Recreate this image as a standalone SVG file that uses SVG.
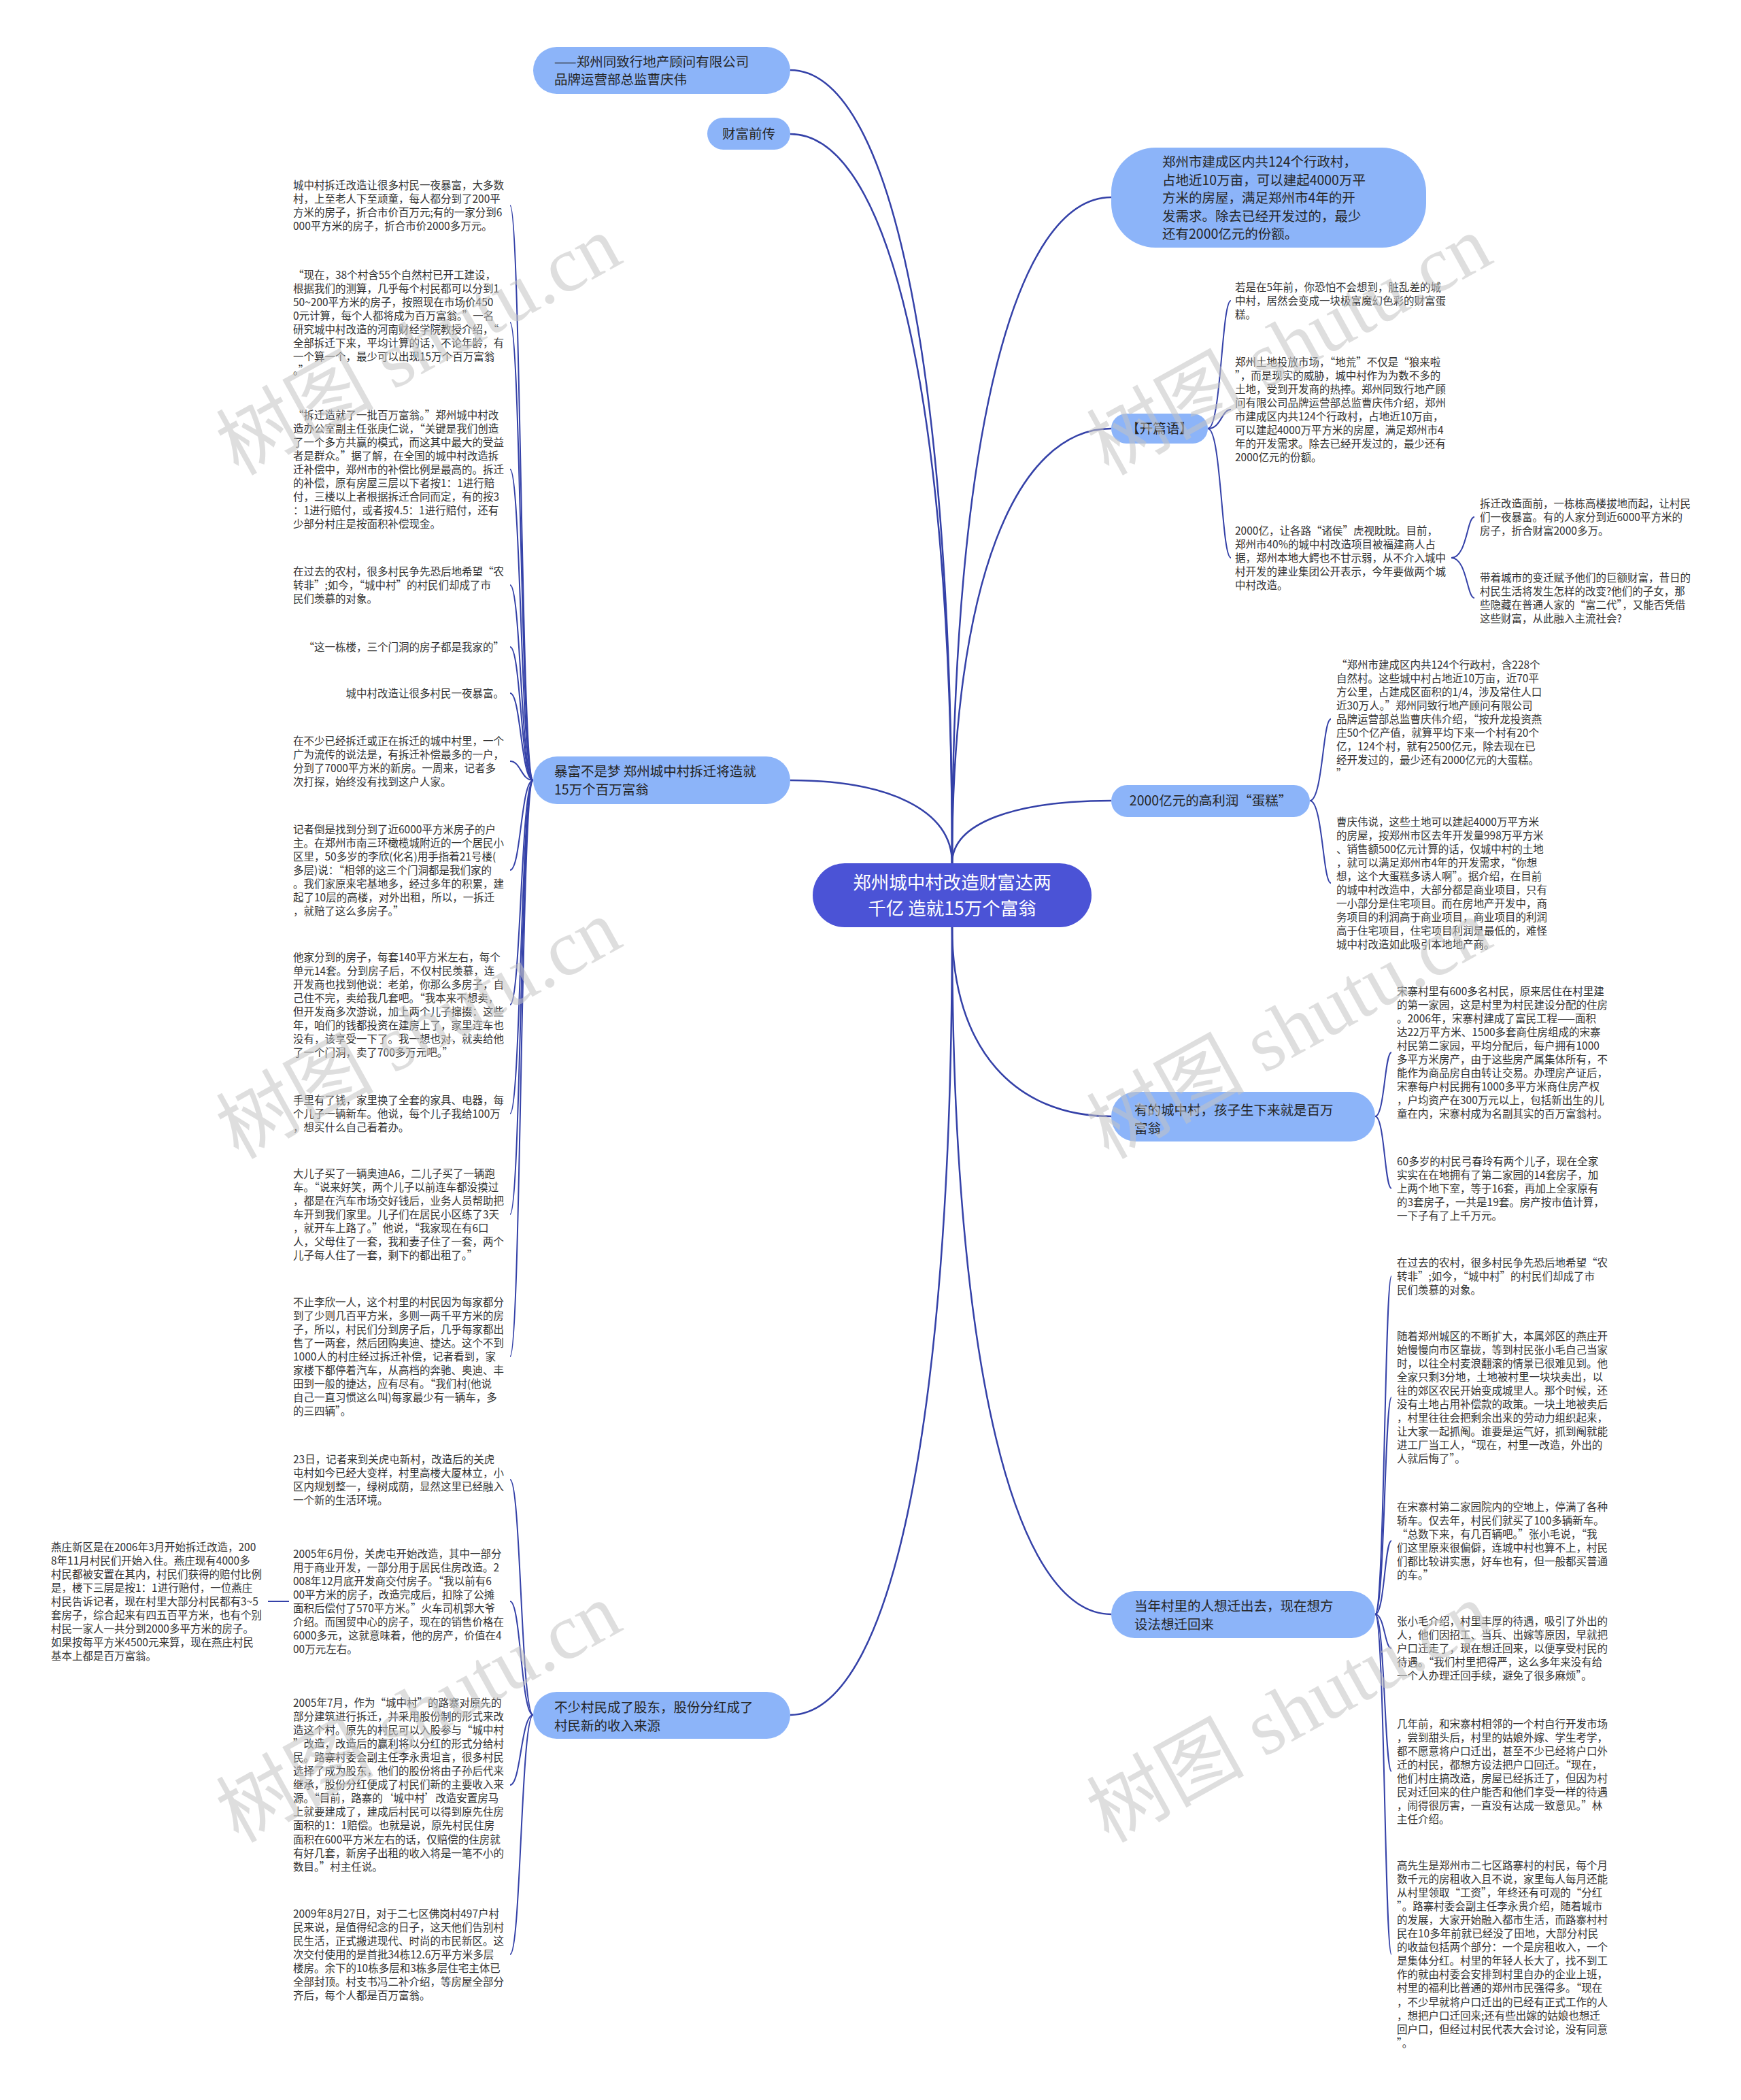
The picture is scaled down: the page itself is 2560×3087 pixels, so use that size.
<svg xmlns="http://www.w3.org/2000/svg" width="2560" height="3087" viewBox="0 0 2560 3087">
<style>
.wm{font-family:"Liberation Serif","Noto Sans CJK SC",serif;font-size:116px;fill:#c4c4c4;opacity:0.55}
.leaf{font-family:"Noto Sans CJK SC","Noto Sans",sans-serif;font-size:15.5px;fill:#333333}
.nt{font-family:"Noto Sans CJK SC","Noto Sans",sans-serif;font-size:19.5px;fill:#262626}
.ct{font-family:"Noto Sans CJK SC","Noto Sans",sans-serif;font-size:26.5px;fill:#ffffff}
.nd{fill:#8cb4f9}
.cn{fill:#4b53d6}
.c{fill:none;stroke:#3441a8;stroke-width:2.5}
.s{fill:none;stroke:#3441a8;stroke-width:2}
</style>
<rect width="2560" height="3087" fill="#ffffff"/>
<g id="connectors">
<path class="c" d="M1400,1269 C1400,511 1305,103 1162,103"/>
<path class="c" d="M1400,1269 C1400,572 1305,197 1162,197"/>
<path class="c" d="M1400,1269 C1400,1190 1305,1147 1162,1147"/>
<path class="c" d="M1400,1363 C1400,2116 1305,2521 1162,2521"/>
<path class="c" d="M1400,1269 C1400,633 1494,290 1634,290"/>
<path class="c" d="M1400,1269 C1400,854 1494,630 1634,630"/>
<path class="c" d="M1400,1269 C1400,1209 1494,1177 1634,1177"/>
<path class="c" d="M1400,1363 C1400,1544 1494,1641 1634,1641"/>
<path class="c" d="M1400,1363 C1400,2019 1494,2373 1634,2373"/>
<path class="s" d="M784,1147 C766,1147 766,302 750,302"/>
<path class="s" d="M784,1147 C766,1147 766,474 750,474"/>
<path class="s" d="M784,1147 C766,1147 766,690 750,690"/>
<path class="s" d="M784,1147 C766,1147 766,860 750,860"/>
<path class="s" d="M784,1147 C766,1147 766,951 750,951"/>
<path class="s" d="M784,1147 C766,1147 766,1019 750,1019"/>
<path class="s" d="M784,1147 C766,1147 766,1119 750,1119"/>
<path class="s" d="M784,1147 C766,1147 766,1279 750,1279"/>
<path class="s" d="M784,1147 C766,1147 766,1477 750,1477"/>
<path class="s" d="M784,1147 C766,1147 766,1637 750,1637"/>
<path class="s" d="M784,1147 C766,1147 766,1785 750,1785"/>
<path class="s" d="M784,1147 C766,1147 766,1994 750,1994"/>
<path class="s" d="M784,2521 C766,2521 766,2175 750,2175"/>
<path class="s" d="M784,2521 C766,2521 766,2354 750,2354"/>
<path class="s" d="M784,2521 C766,2521 766,2624 750,2624"/>
<path class="s" d="M784,2521 C766,2521 766,2873 750,2873"/>
<path class="s" d="M425,2354 C410,2354 410,2354 394,2354"/>
<path class="s" d="M1776,630 C1796,630 1796,442 1810,442"/>
<path class="s" d="M1776,630 C1796,630 1796,602 1810,602"/>
<path class="s" d="M1776,630 C1796,630 1796,820 1810,820"/>
<path class="s" d="M2134,820 C2157,820 2157,760 2168,760"/>
<path class="s" d="M2134,820 C2157,820 2157,879 2168,879"/>
<path class="s" d="M1926,1177 C1945,1177 1945,1057 1957,1057"/>
<path class="s" d="M1926,1177 C1945,1177 1945,1298 1957,1298"/>
<path class="s" d="M2022,1641 C2036,1641 2036,1547 2046,1547"/>
<path class="s" d="M2022,1641 C2036,1641 2036,1747 2046,1747"/>
<path class="s" d="M2022,2373 C2036,2373 2036,1876 2046,1876"/>
<path class="s" d="M2022,2373 C2036,2373 2036,2054 2046,2054"/>
<path class="s" d="M2022,2373 C2036,2373 2036,2265 2046,2265"/>
<path class="s" d="M2022,2373 C2036,2373 2036,2423 2046,2423"/>
<path class="s" d="M2022,2373 C2036,2373 2036,2604 2046,2604"/>
<path class="s" d="M2022,2373 C2036,2373 2036,2873 2046,2873"/>
</g>

<g id="center">
<rect class="cn" x="1195" y="1269" width="410" height="94" rx="47"/>
<text class="ct" text-anchor="middle"><tspan x="1400" y="1307">郑州城中村改造财富达两</tspan><tspan x="1400" y="1345">千亿 造就15万个富翁</tspan></text>
</g>

<g id="n1">
<rect class="nd" x="784" y="69" width="378" height="69" rx="34.5"/>
<text class="nt"><tspan x="815" y="98">——郑州同致行地产顾问有限公司</tspan><tspan x="815" y="124">品牌运营部总监曹庆伟</tspan></text>
</g>
<g id="n2">
<rect class="nd" x="1040" y="173" width="122" height="47" rx="23.5"/>
<text class="nt" text-anchor="middle" x="1101" y="204">财富前传</text>
</g>
<g id="n3">
<rect class="nd" x="784" y="1112" width="378" height="70" rx="35"/>
<text class="nt"><tspan x="815" y="1141">暴富不是梦 郑州城中村拆迁将造就</tspan><tspan x="815" y="1168">15万个百万富翁</tspan></text>
</g>
<g id="n4">
<rect class="nd" x="784" y="2487" width="378" height="69" rx="34.5"/>
<text class="nt"><tspan x="815" y="2517">不少村民成了股东，股份分红成了</tspan><tspan x="815" y="2544">村民新的收入来源</tspan></text>
</g>
<g id="n5">
<rect class="nd" x="1634" y="217" width="463" height="147" rx="65"/>
<text class="nt"><tspan x="1709" y="245">郑州市建成区内共124个行政村，</tspan><tspan x="1709" y="271.5">占地近10万亩，可以建起4000万平</tspan><tspan x="1709" y="298">方米的房屋，满足郑州市4年的开</tspan><tspan x="1709" y="324.5">发需求。除去已经开发过的，最少</tspan><tspan x="1709" y="351">还有2000亿元的份额。</tspan></text>
</g>
<g id="n6">
<rect class="nd" x="1634" y="608" width="142" height="44" rx="22"/>
<text class="nt" text-anchor="middle" x="1705" y="637">【开篇语】</text>
</g>
<g id="n7">
<rect class="nd" x="1634" y="1154" width="292" height="47" rx="23.5"/>
<text class="nt" text-anchor="middle" x="1780" y="1184">2000亿元的高利润“蛋糕”</text>
</g>
<g id="n8">
<rect class="nd" x="1634" y="1605" width="388" height="73" rx="36"/>
<text class="nt"><tspan x="1668" y="1639">有的城中村，孩子生下来就是百万</tspan><tspan x="1668" y="1666">富翁</tspan></text>
</g>
<g id="n9">
<rect class="nd" x="1634" y="2339" width="388" height="69" rx="34.5"/>
<text class="nt"><tspan x="1668" y="2368">当年村里的人想迁出去，现在想方</tspan><tspan x="1668" y="2395">设法想迁回来</tspan></text>
</g>

<g id="b1"><text class="leaf"><tspan x="431" y="277.5">城中村拆迁改造让很多村民一夜暴富，大多数</tspan><tspan x="431" dy="20.1">村，上至老人下至顽童，每人都分到了200平</tspan><tspan x="431" dy="20.1">方米的房子，折合市价百万元;有的一家分到6</tspan><tspan x="431" dy="20.1">000平方米的房子，折合市价2000多万元。</tspan></text></g>
<g id="b2"><text class="leaf"><tspan x="431" y="409.5">“现在，38个村含55个自然村已开工建设，</tspan><tspan x="431" dy="20.1">根据我们的测算，几乎每个村民都可以分到1</tspan><tspan x="431" dy="20.1">50~200平方米的房子，按照现在市场价450</tspan><tspan x="431" dy="20.1">0元计算，每个人都将成为百万富翁。”一名</tspan><tspan x="431" dy="20.1">研究城中村改造的河南财经学院教授介绍，“</tspan><tspan x="431" dy="20.1">全部拆迁下来，平均计算的话，不论年龄，有</tspan><tspan x="431" dy="20.1">一个算一个，最少可以出现15万个百万富翁</tspan><tspan x="431" dy="20.1">。”</tspan></text></g>
<g id="b3"><text class="leaf"><tspan x="431" y="615.5">“拆迁造就了一批百万富翁。”郑州城中村改</tspan><tspan x="431" dy="20.1">造办公室副主任张庚仁说，“关键是我们创造</tspan><tspan x="431" dy="20.1">了一个多方共赢的模式，而这其中最大的受益</tspan><tspan x="431" dy="20.1">者是群众。”据了解，在全国的城中村改造拆</tspan><tspan x="431" dy="20.1">迁补偿中，郑州市的补偿比例是最高的。拆迁</tspan><tspan x="431" dy="20.1">的补偿，原有房屋三层以下者按1：1进行赔</tspan><tspan x="431" dy="20.1">付，三楼以上者根据拆迁合同而定，有的按3</tspan><tspan x="431" dy="20.1">：1进行赔付，或者按4.5：1进行赔付，还有</tspan><tspan x="431" dy="20.1">少部分村庄是按面积补偿现金。</tspan></text></g>
<g id="b4"><text class="leaf"><tspan x="431" y="845.5">在过去的农村，很多村民争先恐后地希望“农</tspan><tspan x="431" dy="20.1">转非”;如今，“城中村”的村民们却成了市</tspan><tspan x="431" dy="20.1">民们羡慕的对象。</tspan></text></g>
<g id="b5"><text class="leaf" text-anchor="end" x="741" y="956.5">“这一栋楼，三个门洞的房子都是我家的”</text></g>
<g id="b6"><text class="leaf" text-anchor="end" x="741" y="1024.5">城中村改造让很多村民一夜暴富。</text></g>
<g id="b7"><text class="leaf"><tspan x="431" y="1094.5">在不少已经拆迁或正在拆迁的城中村里，一个</tspan><tspan x="431" dy="20.1">广为流传的说法是，有拆迁补偿最多的一户，</tspan><tspan x="431" dy="20.1">分到了7000平方米的新房。一周来，记者多</tspan><tspan x="431" dy="20.1">次打探，始终没有找到这户人家。</tspan></text></g>
<g id="b8"><text class="leaf"><tspan x="431" y="1224.5">记者倒是找到分到了近6000平方米房子的户</tspan><tspan x="431" dy="20.1">主。在郑州市南三环橄榄城附近的一个居民小</tspan><tspan x="431" dy="20.1">区里，50多岁的李欣(化名)用手指着21号楼(</tspan><tspan x="431" dy="20.1">多层)说：“相邻的这三个门洞都是我们家的</tspan><tspan x="431" dy="20.1">。我们家原来宅基地多，经过多年的积累，建</tspan><tspan x="431" dy="20.1">起了10层的高楼，对外出租，所以，一拆迁</tspan><tspan x="431" dy="20.1">，就赔了这么多房子。”</tspan></text></g>
<g id="b9"><text class="leaf"><tspan x="431" y="1412.5">他家分到的房子，每套140平方米左右，每个</tspan><tspan x="431" dy="20.1">单元14套。分到房子后，不仅村民羡慕，连</tspan><tspan x="431" dy="20.1">开发商也找到他说：老弟，你那么多房子，自</tspan><tspan x="431" dy="20.1">己住不完，卖给我几套吧。“我本来不想卖，</tspan><tspan x="431" dy="20.1">但开发商多次游说，加上两个儿子撺掇：这些</tspan><tspan x="431" dy="20.1">年，咱们的钱都投资在建房上了，家里连车也</tspan><tspan x="431" dy="20.1">没有，该享受一下了。我一想也对，就卖给他</tspan><tspan x="431" dy="20.1">了一个门洞，卖了700多万元吧。”</tspan></text></g>
<g id="b10"><text class="leaf"><tspan x="431" y="1622.5">手里有了钱，家里换了全套的家具、电器，每</tspan><tspan x="431" dy="20.1">个儿子一辆新车。他说，每个儿子我给100万</tspan><tspan x="431" dy="20.1">，想买什么自己看着办。</tspan></text></g>
<g id="b11"><text class="leaf"><tspan x="431" y="1730.5">大儿子买了一辆奥迪A6，二儿子买了一辆跑</tspan><tspan x="431" dy="20.1">车。“说来好笑，两个儿子以前连车都没摸过</tspan><tspan x="431" dy="20.1">，都是在汽车市场交好钱后，业务人员帮助把</tspan><tspan x="431" dy="20.1">车开到我们家里。儿子们在居民小区练了3天</tspan><tspan x="431" dy="20.1">，就开车上路了。”他说，“我家现在有6口</tspan><tspan x="431" dy="20.1">人，父母住了一套，我和妻子住了一套，两个</tspan><tspan x="431" dy="20.1">儿子每人住了一套，剩下的都出租了。”</tspan></text></g>
<g id="b12"><text class="leaf"><tspan x="431" y="1919.5">不止李欣一人，这个村里的村民因为每家都分</tspan><tspan x="431" dy="20.1">到了少则几百平方米，多则一两千平方米的房</tspan><tspan x="431" dy="20.1">子，所以，村民们分到房子后，几乎每家都出</tspan><tspan x="431" dy="20.1">售了一两套，然后团购奥迪、捷达。这个不到</tspan><tspan x="431" dy="20.1">1000人的村庄经过拆迁补偿，记者看到，家</tspan><tspan x="431" dy="20.1">家楼下都停着汽车，从高档的奔驰、奥迪、丰</tspan><tspan x="431" dy="20.1">田到一般的捷达，应有尽有。“我们村(他说</tspan><tspan x="431" dy="20.1">自己一直习惯这么叫)每家最少有一辆车，多</tspan><tspan x="431" dy="20.1">的三四辆”。</tspan></text></g>

<g id="c1"><text class="leaf"><tspan x="431" y="2150.5">23日，记者来到关虎屯新村，改造后的关虎</tspan><tspan x="431" dy="20.1">屯村如今已经大变样，村里高楼大厦林立，小</tspan><tspan x="431" dy="20.1">区内规划整一，绿树成荫，显然这里已经融入</tspan><tspan x="431" dy="20.1">一个新的生活环境。</tspan></text></g>
<g id="c2"><text class="leaf"><tspan x="431" y="2289.5">2005年6月份，关虎屯开始改造，其中一部分</tspan><tspan x="431" dy="20.1">用于商业开发，一部分用于居民住房改造。2</tspan><tspan x="431" dy="20.1">008年12月底开发商交付房子。“我以前有6</tspan><tspan x="431" dy="20.1">00平方米的房子，改造完成后，扣除了公摊</tspan><tspan x="431" dy="20.1">面积后偿付了570平方米。”火车司机郭大爷</tspan><tspan x="431" dy="20.1">介绍。而国贸中心的房子，现在的销售价格在</tspan><tspan x="431" dy="20.1">6000多元，这就意味着，他的房产，价值在4</tspan><tspan x="431" dy="20.1">00万元左右。</tspan></text></g>
<g id="c2a"><text class="leaf"><tspan x="75" y="2279.5">燕庄新区是在2006年3月开始拆迁改造，200</tspan><tspan x="75" dy="20.1">8年11月村民们开始入住。燕庄现有4000多</tspan><tspan x="75" dy="20.1">村民都被安置在其内，村民们获得的赔付比例</tspan><tspan x="75" dy="20.1">是，楼下三层是按1：1进行赔付，一位燕庄</tspan><tspan x="75" dy="20.1">村民告诉记者，现在村里大部分村民都有3~5</tspan><tspan x="75" dy="20.1">套房子，综合起来有四五百平方米，也有个别</tspan><tspan x="75" dy="20.1">村民一家人一共分到2000多平方米的房子。</tspan><tspan x="75" dy="20.1">如果按每平方米4500元来算，现在燕庄村民</tspan><tspan x="75" dy="20.1">基本上都是百万富翁。</tspan></text></g>
<g id="c3"><text class="leaf"><tspan x="431" y="2508.5">2005年7月，作为“城中村”的路寨对原先的</tspan><tspan x="431" dy="20.1">部分建筑进行拆迁，并采用股份制的形式来改</tspan><tspan x="431" dy="20.1">造这个村。原先的村民可以入股参与“城中村</tspan><tspan x="431" dy="20.1">”改造，改造后的赢利将以分红的形式分给村</tspan><tspan x="431" dy="20.1">民。路寨村委会副主任李永贵坦言，很多村民</tspan><tspan x="431" dy="20.1">选择了成为股东，他们的股份将由子孙后代来</tspan><tspan x="431" dy="20.1">继承，股份分红便成了村民们新的主要收入来</tspan><tspan x="431" dy="20.1">源。“目前，路寨的‘城中村’改造安置房马</tspan><tspan x="431" dy="20.1">上就要建成了，建成后村民可以得到原先住房</tspan><tspan x="431" dy="20.1">面积的1：1赔偿。也就是说，原先村民住房</tspan><tspan x="431" dy="20.1">面积在600平方米左右的话，仅赔偿的住房就</tspan><tspan x="431" dy="20.1">有好几套，新房子出租的收入将是一笔不小的</tspan><tspan x="431" dy="20.1">数目。”村主任说。</tspan></text></g>
<g id="c4"><text class="leaf"><tspan x="431" y="2818.5">2009年8月27日，对于二七区佛岗村497户村</tspan><tspan x="431" dy="20.1">民来说，是值得纪念的日子，这天他们告别村</tspan><tspan x="431" dy="20.1">民生活，正式搬进现代、时尚的市民新区。这</tspan><tspan x="431" dy="20.1">次交付使用的是首批34栋12.6万平方米多层</tspan><tspan x="431" dy="20.1">楼房。余下的10栋多层和3栋多层住宅主体已</tspan><tspan x="431" dy="20.1">全部封顶。村支书冯二补介绍，等房屋全部分</tspan><tspan x="431" dy="20.1">齐后，每个人都是百万富翁。</tspan></text></g>

<g id="r1"><text class="leaf"><tspan x="1816" y="427.5">若是在5年前，你恐怕不会想到，脏乱差的城</tspan><tspan x="1816" dy="20.1">中村，居然会变成一块极富魔幻色彩的财富蛋</tspan><tspan x="1816" dy="20.1">糕。</tspan></text></g>
<g id="r2"><text class="leaf"><tspan x="1816" y="537.5">郑州土地投放市场，“地荒”不仅是“狼来啦</tspan><tspan x="1816" dy="20.1">”，而是现实的威胁，城中村作为为数不多的</tspan><tspan x="1816" dy="20.1">土地，受到开发商的热捧。郑州同致行地产顾</tspan><tspan x="1816" dy="20.1">问有限公司品牌运营部总监曹庆伟介绍，郑州</tspan><tspan x="1816" dy="20.1">市建成区内共124个行政村，占地近10万亩，</tspan><tspan x="1816" dy="20.1">可以建起4000万平方米的房屋，满足郑州市4</tspan><tspan x="1816" dy="20.1">年的开发需求。除去已经开发过的，最少还有</tspan><tspan x="1816" dy="20.1">2000亿元的份额。</tspan></text></g>
<g id="r3"><text class="leaf"><tspan x="1816" y="785.5">2000亿，让各路“诸侯”虎视眈眈。目前，</tspan><tspan x="1816" dy="20.1">郑州市40%的城中村改造项目被福建商人占</tspan><tspan x="1816" dy="20.1">据，郑州本地大鳄也不甘示弱，从不介入城中</tspan><tspan x="1816" dy="20.1">村开发的建业集团公开表示，今年要做两个城</tspan><tspan x="1816" dy="20.1">中村改造。</tspan></text></g>
<g id="r3a"><text class="leaf"><tspan x="2176" y="745.5">拆迁改造面前，一栋栋高楼拔地而起，让村民</tspan><tspan x="2176" dy="20.1">们一夜暴富。有的人家分到近6000平方米的</tspan><tspan x="2176" dy="20.1">房子，折合财富2000多万。</tspan></text></g>
<g id="r3b"><text class="leaf"><tspan x="2176" y="854.5">带着城市的变迁赋予他们的巨额财富，昔日的</tspan><tspan x="2176" dy="20.1">村民生活将发生怎样的改变?他们的子女，那</tspan><tspan x="2176" dy="20.1">些隐藏在普通人家的“富二代”，又能否凭借</tspan><tspan x="2176" dy="20.1">这些财富，从此融入主流社会?</tspan></text></g>

<g id="s1"><text class="leaf"><tspan x="1965" y="982.5">“郑州市建成区内共124个行政村，含228个</tspan><tspan x="1965" dy="20.1">自然村。这些城中村占地近10万亩，近70平</tspan><tspan x="1965" dy="20.1">方公里，占建成区面积的1/4，涉及常住人口</tspan><tspan x="1965" dy="20.1">近30万人。”郑州同致行地产顾问有限公司</tspan><tspan x="1965" dy="20.1">品牌运营部总监曹庆伟介绍，“按升龙投资燕</tspan><tspan x="1965" dy="20.1">庄50个亿产值，就算平均下来一个村有20个</tspan><tspan x="1965" dy="20.1">亿，124个村，就有2500亿元，除去现在已</tspan><tspan x="1965" dy="20.1">经开发过的，最少还有2000亿元的大蛋糕。</tspan><tspan x="1965" dy="20.1">”</tspan></text></g>
<g id="s2"><text class="leaf"><tspan x="1965" y="1213.5">曹庆伟说，这些土地可以建起4000万平方米</tspan><tspan x="1965" dy="20.1">的房屋，按郑州市区去年开发量998万平方米</tspan><tspan x="1965" dy="20.1">、销售额500亿元计算的话，仅城中村的土地</tspan><tspan x="1965" dy="20.1">，就可以满足郑州市4年的开发需求，“你想</tspan><tspan x="1965" dy="20.1">想，这个大蛋糕多诱人啊”。据介绍，在目前</tspan><tspan x="1965" dy="20.1">的城中村改造中，大部分都是商业项目，只有</tspan><tspan x="1965" dy="20.1">一小部分是住宅项目。而在房地产开发中，商</tspan><tspan x="1965" dy="20.1">务项目的利润高于商业项目，商业项目的利润</tspan><tspan x="1965" dy="20.1">高于住宅项目，住宅项目利润是最低的，难怪</tspan><tspan x="1965" dy="20.1">城中村改造如此吸引本地地产商。</tspan></text></g>

<g id="t1"><text class="leaf"><tspan x="2054" y="1462.5">宋寨村里有600多名村民，原来居住在村里建</tspan><tspan x="2054" dy="20.1">的第一家园，这是村里为村民建设分配的住房</tspan><tspan x="2054" dy="20.1">。2006年，宋寨村建成了富民工程——面积</tspan><tspan x="2054" dy="20.1">达22万平方米、1500多套商住房组成的宋寨</tspan><tspan x="2054" dy="20.1">村民第二家园，平均分配后，每户拥有1000</tspan><tspan x="2054" dy="20.1">多平方米房产，由于这些房产属集体所有，不</tspan><tspan x="2054" dy="20.1">能作为商品房自由转让交易。办理房产证后，</tspan><tspan x="2054" dy="20.1">宋寨每户村民拥有1000多平方米商住房产权</tspan><tspan x="2054" dy="20.1">，户均资产在300万元以上，包括新出生的儿</tspan><tspan x="2054" dy="20.1">童在内，宋寨村成为名副其实的百万富翁村。</tspan></text></g>
<g id="t2"><text class="leaf"><tspan x="2054" y="1712.5">60多岁的村民弓春玲有两个儿子，现在全家</tspan><tspan x="2054" dy="20.1">实实在在地拥有了第二家园的14套房子，加</tspan><tspan x="2054" dy="20.1">上两个地下室，等于16套，再加上全家原有</tspan><tspan x="2054" dy="20.1">的3套房子，一共是19套。房产按市值计算，</tspan><tspan x="2054" dy="20.1">一下子有了上千万元。</tspan></text></g>

<g id="u1"><text class="leaf"><tspan x="2054" y="1861.5">在过去的农村，很多村民争先恐后地希望“农</tspan><tspan x="2054" dy="20.1">转非”;如今，“城中村”的村民们却成了市</tspan><tspan x="2054" dy="20.1">民们羡慕的对象。</tspan></text></g>
<g id="u2"><text class="leaf"><tspan x="2054" y="1969.5">随着郑州城区的不断扩大，本属郊区的燕庄开</tspan><tspan x="2054" dy="20.1">始慢慢向市区靠拢，等到村民张小毛自己当家</tspan><tspan x="2054" dy="20.1">时，以往全村麦浪翻滚的情景已很难见到。他</tspan><tspan x="2054" dy="20.1">全家只剩3分地，土地被村里一块块卖出，以</tspan><tspan x="2054" dy="20.1">往的郊区农民开始变成城里人。那个时候，还</tspan><tspan x="2054" dy="20.1">没有土地占用补偿款的政策。一块土地被卖后</tspan><tspan x="2054" dy="20.1">，村里往往会把剩余出来的劳动力组织起来，</tspan><tspan x="2054" dy="20.1">让大家一起抓阄。谁要是运气好，抓到阄就能</tspan><tspan x="2054" dy="20.1">进工厂当工人，“现在，村里一改造，外出的</tspan><tspan x="2054" dy="20.1">人就后悔了”。</tspan></text></g>
<g id="u3"><text class="leaf"><tspan x="2054" y="2220.5">在宋寨村第二家园院内的空地上，停满了各种</tspan><tspan x="2054" dy="20.1">轿车。仅去年，村民们就买了100多辆新车。</tspan><tspan x="2054" dy="20.1">“总数下来，有几百辆吧。”张小毛说，“我</tspan><tspan x="2054" dy="20.1">们这里原来很偏僻，连城中村也算不上，村民</tspan><tspan x="2054" dy="20.1">们都比较讲实惠，好车也有，但一般都买普通</tspan><tspan x="2054" dy="20.1">的车。”</tspan></text></g>
<g id="u4"><text class="leaf"><tspan x="2054" y="2388.5">张小毛介绍，村里丰厚的待遇，吸引了外出的</tspan><tspan x="2054" dy="20.1">人，他们因招工、当兵、出嫁等原因，早就把</tspan><tspan x="2054" dy="20.1">户口迁走了，现在想迁回来，以便享受村民的</tspan><tspan x="2054" dy="20.1">待遇。“我们村里把得严，这么多年来没有给</tspan><tspan x="2054" dy="20.1">一个人办理迁回手续，避免了很多麻烦”。</tspan></text></g>
<g id="u5"><text class="leaf"><tspan x="2054" y="2539.5">几年前，和宋寨村相邻的一个村自行开发市场</tspan><tspan x="2054" dy="20.1">，尝到甜头后，村里的姑娘外嫁、学生考学，</tspan><tspan x="2054" dy="20.1">都不愿意将户口迁出，甚至不少已经将户口外</tspan><tspan x="2054" dy="20.1">迁的村民，都想方设法把户口回迁。“现在，</tspan><tspan x="2054" dy="20.1">他们村庄搞改造，房屋已经拆迁了，但因为村</tspan><tspan x="2054" dy="20.1">民对迁回来的住户能否和他们享受一样的待遇</tspan><tspan x="2054" dy="20.1">，闹得很厉害，一直没有达成一致意见。”林</tspan><tspan x="2054" dy="20.1">主任介绍。</tspan></text></g>
<g id="u6"><text class="leaf"><tspan x="2054" y="2747.5">高先生是郑州市二七区路寨村的村民，每个月</tspan><tspan x="2054" dy="20.1">数千元的房租收入且不说，家里每人每月还能</tspan><tspan x="2054" dy="20.1">从村里领取“工资”，年终还有可观的“分红</tspan><tspan x="2054" dy="20.1">”。路寨村委会副主任李永贵介绍，随着城市</tspan><tspan x="2054" dy="20.1">的发展，大家开始融入都市生活，而路寨村村</tspan><tspan x="2054" dy="20.1">民在10多年前就已经没了田地，大部分村民</tspan><tspan x="2054" dy="20.1">的收益包括两个部分：一个是房租收入，一个</tspan><tspan x="2054" dy="20.1">是集体分红。村里的年轻人长大了，找不到工</tspan><tspan x="2054" dy="20.1">作的就由村委会安排到村里自办的企业上班，</tspan><tspan x="2054" dy="20.1">村里的福利比普通的郑州市民强得多。“现在</tspan><tspan x="2054" dy="20.1">，不少早就将户口迁出的已经有正式工作的人</tspan><tspan x="2054" dy="20.1">，想把户口迁回来;还有些出嫁的姑娘也想迁</tspan><tspan x="2054" dy="20.1">回户口，但经过村民代表大会讨论，没有同意</tspan><tspan x="2054" dy="20.1">”。</tspan></text></g>

<g id="watermarks">
<text class="wm" transform="translate(350,700) rotate(-29)">树图 shutu.cn</text>
<text class="wm" transform="translate(350,1705) rotate(-29)">树图 shutu.cn</text>
<text class="wm" transform="translate(350,2710) rotate(-29)">树图 shutu.cn</text>
<text class="wm" transform="translate(1630,700) rotate(-29)">树图 shutu.cn</text>
<text class="wm" transform="translate(1630,1705) rotate(-29)">树图 shutu.cn</text>
<text class="wm" transform="translate(1630,2710) rotate(-29)">树图 shutu.cn</text>
</g>
</svg>
